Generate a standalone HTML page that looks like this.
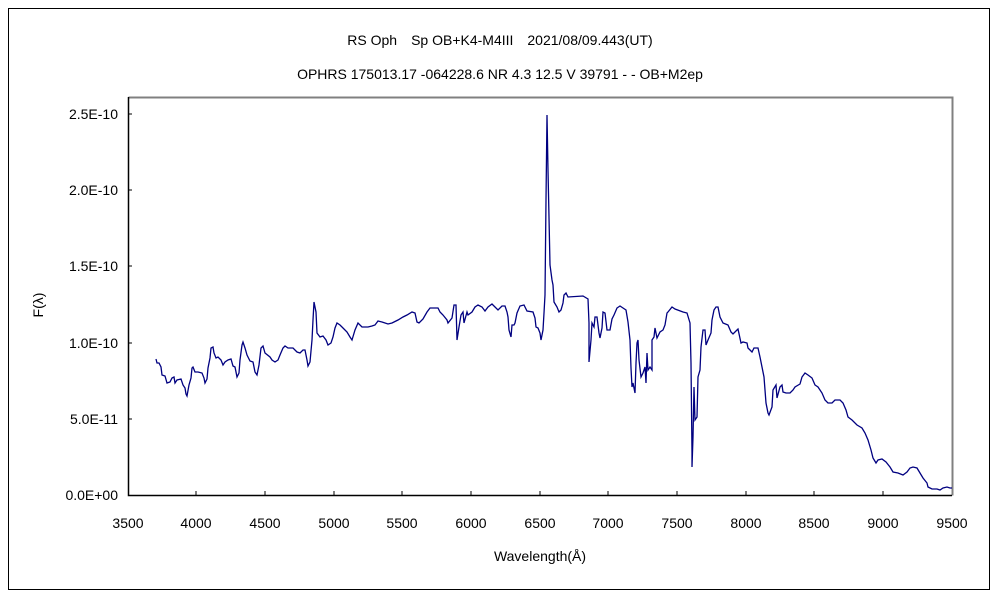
<!DOCTYPE html>
<html><head><style>body{margin:0;background:#fff}svg{display:block}text{font-family:"Liberation Sans","Noto Sans CJK JP",sans-serif;font-size:14px;fill:#000}</style></head><body>
<svg width="1000" height="600" viewBox="0 0 1000 600">
<rect x="8.5" y="8.5" width="981" height="581" fill="#fff" stroke="#000"/>
<text x="500" y="45" text-anchor="middle">RS Oph　Sp OB+K4-M4III　2021/08/09.443(UT)</text>
<text x="500" y="79" text-anchor="middle">OPHRS 175013.17 -064228.6 NR 4.3 12.5 V 39791 - - OB+M2ep</text>
<path d="M128.5 97.5H952.5V495.5" fill="none" stroke="#808080" stroke-width="2"/>
<path d="M128.5 97V495.5H952" fill="none" stroke="#000" stroke-width="1.5"/>
<g stroke="#000">
<path d="M128 114h4M128 190h4M128 266h4M128 343h4M128 419h4"/>
<path d="M196 495v-4M265 495v-4M334 495v-4M402 495v-4M471 495v-4M540 495v-4M608 495v-4M677 495v-4M746 495v-4M814 495v-4M883 495v-4"/>
</g>
<g text-anchor="end">
<text x="118" y="119">2.5E-10</text><text x="118" y="195">2.0E-10</text><text x="118" y="271">1.5E-10</text><text x="118" y="348">1.0E-10</text><text x="118" y="424">5.0E-11</text><text x="118" y="500">0.0E+00</text>
</g>
<g text-anchor="middle">
<text x="128" y="528">3500</text><text x="196" y="528">4000</text><text x="265" y="528">4500</text><text x="334" y="528">5000</text><text x="402" y="528">5500</text><text x="471" y="528">6000</text><text x="540" y="528">6500</text><text x="608" y="528">7000</text><text x="677" y="528">7500</text><text x="746" y="528">8000</text><text x="814" y="528">8500</text><text x="883" y="528">9000</text><text x="952" y="528">9500</text>
<text x="540" y="561">Wavelength(Å)</text>
<text x="0" y="0" transform="translate(43,305) rotate(-90)">F(λ)</text>
</g>
<polyline fill="none" stroke="#000080" stroke-width="1.3" stroke-linejoin="miter" points="156,359 157,363 159,363 161,367 162,375 165,376 167,383 170,382 172,378 174,377 175,383 177,380 181,379 183,385 185,388 186,394 187,396 189,385 191,378 192,368 193,367 195,372 198,372 202,373 204,378 205,383 207,379 208,368 210,358 211,348 213,347 214,353 216,358 218,357 221,360 223,365 225,362 228,360 231,359 233,366 235,367 237,377 239,373 240,360 242,345 243,342 245,348 247,355 250,361 253,362 255,372 257,375 259,365 261,348 263,346 265,353 270,357 272,360 275,362 278,360 280,355 283,348 285,346 288,348 293,348 297,352 300,353 303,350 305,350 307,360 308,366 310,362 312,340 313,320 314,302 316,312 317,333 320,337 323,336 326,340 328,345 331,343 333,337 335,328 337,323 340,325 343,328 347,332 350,337 352,340 355,330 358,323 362,327 368,327 372,326 375,325 378,321 382,322 388,324 392,323 398,320 403,317 407,315 412,312 415,313 417,322 419,323 423,319 427,312 430,308 438,308 440,312 443,315 447,320 448,323 452,318 454,305 456,305 457,340 459,327 461,315 463,312 464,323 467,312 468,315 472,312 475,307 478,305 482,307 485,311 488,307 492,304 495,307 498,310 502,306 505,306 507,312 508,317 509,330 511,337 512,325 514,325 515,323 517,313 520,306 524,305 527,311 533,312 535,318 536,327 538,328 540,333 541,340 543,330 544,313 545,295 546,200 547,115 548,170 550,265 552,280 553,285 554,302 557,307 559,312 561,310 563,303 564,295 566,293 568,297 583,296 588,299 589,323 589,362 591,340 592,323 594,327 595,317 597,317 599,333 600,338 602,328 603,312 605,313 607,330 610,330 612,319 614,315 617,308 620,306 623,308 626,310 628,322 630,340 631,368 632,387 633,383 635,393 636,363 637,343 638,340 639,360 641,377 643,373 645,367 646,383 647,353 648,370 650,367 652,370 652,340 654,337 655,328 657,338 660,332 663,330 665,325 667,313 668,312 672,307 675,309 683,312 687,313 690,323 691,363 692,453 692,467 693,437 694,387 695,420 697,417 698,377 700,370 701,347 703,330 705,330 706,345 708,340 711,333 712,320 714,310 716,307 718,307 720,317 723,323 728,325 731,332 733,334 737,330 738,329 741,343 743,342 747,343 748,348 752,352 754,348 758,348 760,357 762,367 764,377 766,403 768,413 769,415 772,407 773,390 776,385 777,398 780,387 782,385 783,392 786,393 790,393 793,390 795,387 800,384 802,377 805,373 808,375 812,378 815,385 818,387 822,393 825,400 828,403 832,403 835,400 840,400 843,403 846,410 848,417 852,420 857,425 862,428 865,433 868,440 871,450 873,458 876,463 878,460 882,459 886,462 890,467 893,472 898,473 903,475 907,472 910,468 913,467 917,468 920,473 923,478 927,483 928,487 932,489 937,489 940,490 943,488 947,487 950,488 952,488"/>
</svg>
</body></html>
